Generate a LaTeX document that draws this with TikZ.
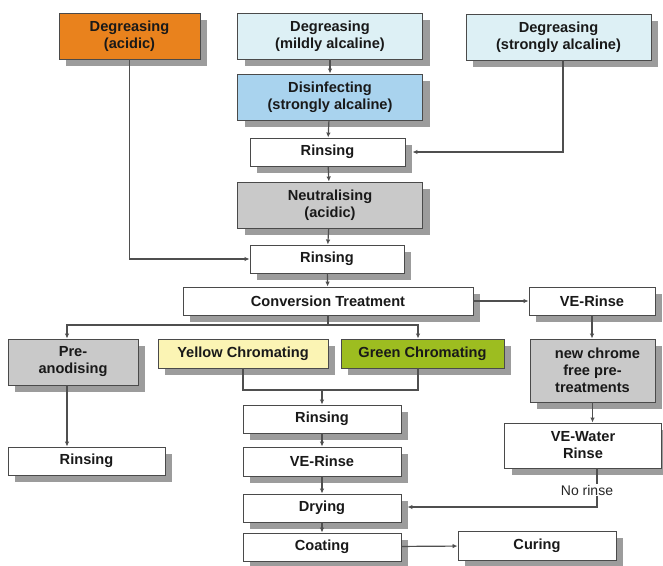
\documentclass[tikz,border=0pt]{standalone}
\usepackage{fontspec}
\setmainfont{Liberation Sans}
\usetikzlibrary{shadows,arrows.meta}
\definecolor{orangeB}{HTML}{E9821D}
\definecolor{lblue}{HTML}{DDF0F5}
\definecolor{mblue}{HTML}{A9D3EE}
\definecolor{grayB}{HTML}{C9C9C9}
\definecolor{yellowB}{HTML}{FBF4B4}
\definecolor{greenB}{HTML}{9DBD20}
\definecolor{boxline}{HTML}{4A4A4A}
\definecolor{linec}{HTML}{4F4F4F}
\definecolor{shadowc}{HTML}{9C9C9C}
\begin{document}
\begin{tikzpicture}[x=1pt,y=-1pt,
  box/.style={draw=boxline, line width=0.9pt, fill=white,
    font=\bfseries\fontsize{14.6}{17}\selectfont, align=center, inner sep=0pt,
    text=black!90,
    drop shadow={shadow xshift=7pt, shadow yshift=-7pt, fill=shadowc, opacity=1}},
  conn/.style={draw=linec, line width=1.2pt},
  arr/.style={conn, -{Latex[length=5pt,width=4.5pt]}}]
\fill[white] (0,0) rectangle (663,565);
\useasboundingbox (0,0) rectangle (663,565);

% top row
\node[box, fill=orangeB, minimum width=141, minimum height=46] (dacid) at (129.5,36) {Degreasing\\(acidic)};
\node[box, fill=lblue, minimum width=185, minimum height=46] (dmild) at (330,36) {Degreasing\\(mildly alcaline)};
\node[box, fill=lblue, minimum width=185, minimum height=46] (dstrong) at (558.5,37) {Degreasing\\(strongly alcaline)};

% central column
\node[box, fill=mblue, minimum width=185, minimum height=46] (disinf) at (330,97) {Disinfecting\\(strongly alcaline)};
\node[box, minimum width=155, minimum height=28] (rins1) at (327.5,152) {Rinsing};
\node[box, fill=grayB, minimum width=185, minimum height=46] (neutral) at (330,205) {Neutralising\\(acidic)};
\node[box, minimum width=154, minimum height=28] (rins2) at (327,259) {Rinsing};
\node[box, minimum width=290, minimum height=28] (conv) at (328,301) {Conversion Treatment};
\node[box, minimum width=126, minimum height=28] (verR) at (592,301) {VE-Rinse};

% second level
\node[box, fill=grayB, minimum width=130, minimum height=46] (preanod) at (73,362) {Pre-\\anodising};
\node[box, fill=yellowB, minimum width=170, minimum height=29] (yellow) at (243,353.5) {Yellow Chromating};
\node[box, fill=greenB, minimum width=163, minimum height=29] (green) at (422.5,353.5) {Green Chromating};
\node[box, fill=grayB, minimum width=125, minimum height=63] (newchr) at (592.5,370.5) {\hspace*{10pt}new chrome\\free pre-\\treatments};

% lower nodes
\node[box, minimum width=157, minimum height=28] (rinsL) at (86.5,461) {Rinsing};
\node[box, minimum width=158, minimum height=28] (rinsC) at (322,419) {Rinsing};
\node[box, minimum width=158, minimum height=29] (veC) at (322,461.5) {VE-Rinse};
\node[box, minimum width=157, minimum height=45] (vewater) at (583,445.5) {VE-Water\\Rinse};
\node[box, minimum width=158, minimum height=28] (drying) at (322,508) {Drying};
\node[box, minimum width=158, minimum height=28] (coating) at (322,547) {Coating};
\node[box, minimum width=158, minimum height=29] (curing) at (537,545.5) {Curing};

% connectors
\draw[arr] (dmild) -- (disinf);
\draw[arr] (disinf) -- (rins1);
\draw[arr] (rins1) -- (neutral);
\draw[arr] (neutral) -- (rins2);
\draw[arr] (rins2) -- (conv);
\draw[arr] (dacid.south) |- (rins2.west);
\draw[arr] ([xshift=4.5pt]dstrong.south) |- ([xshift=7pt]rins1.east);
\draw[arr] (conv.east) -- (verR.west);

\coordinate (split) at (328,325);
\draw[conn] (conv.south) -- (split);
\draw[arr] (split) -| ([xshift=-6pt]preanod.north);
\draw[arr] (split) -| ([xshift=-4.5pt]green.north);
\draw[arr] ([xshift=-6pt]preanod.south) -- ([xshift=-6pt]preanod.south |- rinsL.north);

\coordinate (merge) at (322,390);
\draw[conn] (yellow.south) |- (merge) -| ([xshift=-4.5pt]green.south);
\draw[arr] (merge) -- (rinsC.north);
\draw[arr] (rinsC) -- (veC);
\draw[arr] (veC) -- (drying);
\draw[arr] (drying) -- (coating);
\draw[arr] (coating) -- (curing);

\draw[arr] (verR) -- (newchr.north -| verR);
\draw[arr] (newchr.south) -- (newchr.south |- vewater.north);
\coordinate (nr) at (597,507);
\draw[arr] ([xshift=14pt]vewater.south) -- (nr) -- ([xshift=6pt]drying.east |- nr);
\node[fill=white, inner sep=1pt, font=\fontsize{14}{16}\selectfont, text=black!85] (norinse) at (587,490) {No rinse};
\end{tikzpicture}
\end{document}
